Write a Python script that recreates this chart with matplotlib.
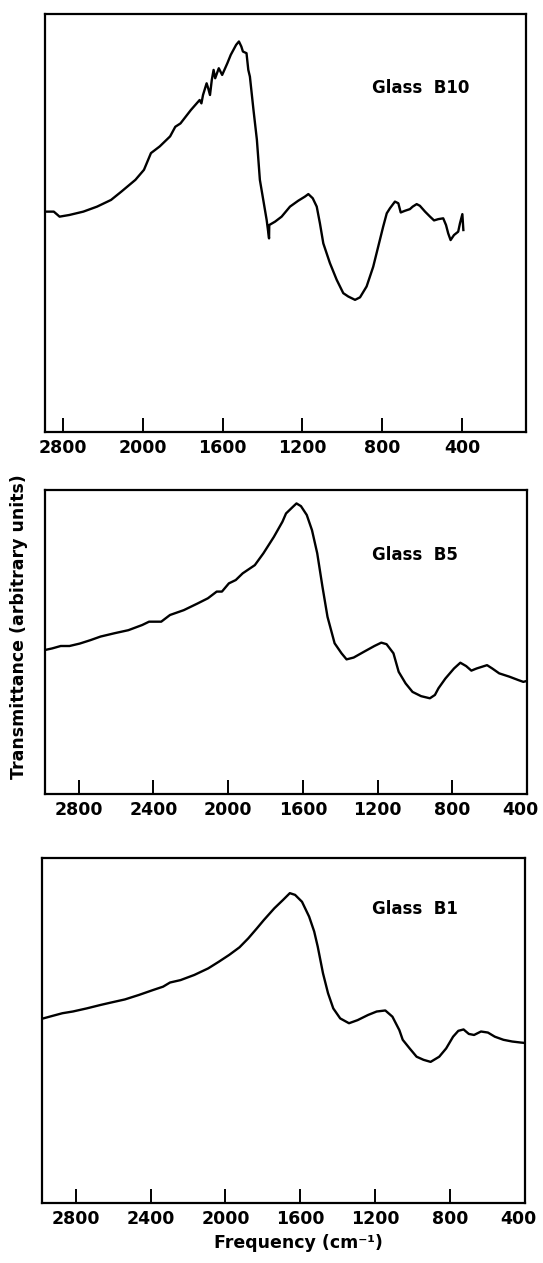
import matplotlib
matplotlib.use("Agg")
import matplotlib.pyplot as plt
from matplotlib.transforms import ScaledTranslation

# ---------------- data ----------------
# Glass B10 (top panel)
b10_freq = [2481, 2446, 2417, 2368, 2298, 2229, 2159, 2107, 2037, 1994, 1959, 1915,
            1863, 1837, 1811, 1759, 1715, 1706, 1698, 1680, 1672, 1663, 1654, 1645,
            1637, 1619, 1602, 1576, 1559, 1532, 1518, 1506, 1498, 1480, 1471, 1463,
            1445, 1428, 1413, 1396, 1379, 1367, 1366, 1337, 1304, 1262, 1221, 1187,
            1170, 1148, 1128, 1112, 1095, 1062, 1028, 995, 970, 936, 911, 878, 845,
            820, 795, 777, 761, 736, 719, 707, 686, 661, 647, 627, 611, 585, 560,
            540, 519, 494, 480, 469, 457, 440, 419, 410, 398, 393]
b10_trans = [52.7, 52.7, 51.5, 51.9, 52.7, 53.9, 55.5, 57.5, 60.3, 62.7, 66.7, 68.3,
             70.7, 73.0, 73.8, 77.0, 79.4, 78.6, 80.6, 83.4, 82.2, 80.6, 84.2, 86.6,
             84.6, 87.0, 85.4, 88.2, 90.2, 92.6, 93.4, 92.2, 91.0, 90.6, 86.6, 85.0,
             77.0, 69.9, 60.3, 55.5, 50.7, 46.3, 49.5, 50.3, 51.5, 53.9, 55.3, 56.3,
             56.9, 55.9, 53.9, 49.9, 45.1, 40.4, 36.4, 33.2, 32.4, 31.6, 32.2, 34.8,
             39.5, 44.3, 49.1, 52.3, 53.5, 55.1, 54.7, 52.5, 52.9, 53.3, 53.9, 54.5,
             54.1, 52.7, 51.5, 50.6, 50.9, 51.1, 49.5, 47.5, 45.9, 47.1, 47.9, 49.9,
             52.1, 48.3]

# Glass B5 (middle panel)
b5_freq = [2979, 2942, 2896, 2849, 2794, 2738, 2683, 2608, 2534, 2460, 2423, 2358,
           2311, 2237, 2163, 2108, 2061, 2033, 1996, 1959, 1922, 1857, 1811, 1755,
           1709, 1690, 1653, 1634, 1610, 1579, 1551, 1523, 1495, 1468, 1430, 1393,
           1366, 1328, 1273, 1217, 1180, 1152, 1115, 1087, 1050, 1013, 967, 920,
           893, 874, 837, 791, 757, 726, 698, 670, 614, 586, 549, 494, 447, 420, 401]
b5_trans = [47.4, 47.9, 48.7, 48.7, 49.5, 50.6, 51.8, 52.9, 53.9, 55.6, 56.7, 56.7,
            58.9, 60.5, 62.7, 64.4, 66.6, 66.6, 69.3, 70.4, 72.6, 75.3, 79.2, 84.6,
            89.6, 92.3, 94.5, 95.6, 94.7, 91.8, 86.8, 79.2, 68.2, 58.3, 49.6, 46.3,
            44.3, 44.9, 46.8, 48.7, 49.8, 49.3, 46.3, 40.2, 36.4, 33.6, 32.2, 31.5,
            32.6, 34.8, 38.0, 41.3, 43.2, 42.1, 40.6, 41.3, 42.4, 41.3, 39.7, 38.6,
            37.5, 36.9, 37.2]

# Glass B1 (bottom panel)
b1_freq = [2973, 2926, 2871, 2815, 2741, 2667, 2611, 2537, 2462, 2388, 2333, 2296,
           2240, 2166, 2092, 2036, 1980, 1925, 1878, 1832, 1795, 1739, 1693, 1656,
           1628, 1591, 1553, 1526, 1507, 1479, 1452, 1424, 1387, 1340, 1294, 1238,
           1192, 1146, 1108, 1071, 1053, 1016, 979, 942, 904, 858, 821, 784, 756,
           728, 700, 672, 635, 598, 561, 515, 468, 422, 385]
b1_trans = [53.5, 54.2, 55.0, 55.5, 56.4, 57.4, 58.1, 59.0, 60.3, 61.7, 62.7, 63.9,
            64.6, 66.1, 68.0, 69.9, 71.9, 74.1, 76.7, 79.6, 82.0, 85.4, 87.8, 89.8,
            89.3, 87.3, 83.0, 78.7, 74.3, 66.6, 60.8, 56.4, 53.5, 52.1, 53.0, 54.5,
            55.5, 55.8, 54.0, 50.1, 47.3, 44.8, 42.4, 41.5, 40.9, 42.4, 44.8, 48.2,
            49.9, 50.3, 49.0, 48.7, 49.7, 49.4, 48.2, 47.3, 46.8, 46.5, 46.3]

# tick positions and labels
top_tick_pos = [2400, 2000, 1600, 1200, 800, 400]
top_tick_labels = ["2800", "2000", "1600", "1200", "800", "400"]
tick_pos = [2800, 2400, 2000, 1600, 1200, 800, 400]
tick_labels = ["2800", "2400", "2000", "1600", "1200", "800", "400"]

labels = ["Glass  B10", "Glass  B5", "Glass  B1"]

# ---------------- figure ----------------
plt.rcParams['font.family'] = ['DejaVu Sans']
fig = plt.figure(figsize=(5.43, 12.63), dpi=100)

rects = [
    [0.0829, 0.6580, 0.8858, 0.3310],
    [0.0829, 0.3713, 0.8877, 0.2407],
    [0.0773, 0.0475, 0.8895, 0.2732],
]
series = [(b10_freq, b10_trans), (b5_freq, b5_trans), (b1_freq, b1_trans)]
xlims = [(2490, 79), (2980, 400), (2980, 400)]
ticks = [(top_tick_pos, top_tick_labels), (tick_pos, tick_labels), (tick_pos, tick_labels)]
label_pos = [(0.68, 0.823), (0.679, 0.786), (0.683, 0.852)]

for i, (rect, (xf, yt), xl, (tp, tl), lab, lp) in enumerate(
        zip(rects, series, xlims, ticks, labels, label_pos)):
    ax = fig.add_axes(rect)
    ax.plot(xf, yt, color='black', linewidth=1.7, solid_joinstyle='round')
    ax.set_xlim(*xl)
    ax.set_ylim(0, 100)
    ax.set_xticks(tp)
    ax.set_xticklabels(tl, fontsize=12.5, fontweight='bold')
    ax.tick_params(axis='x', direction='in', length=10, width=1.4, pad=5,
                   top=False, bottom=True)
    ax.set_yticks([])
    for s in ax.spines.values():
        s.set_linewidth(1.6)
        s.set_color('black')
    if i > 0:
        last = ax.get_xticklabels()[-1]
        last.set_transform(last.get_transform() +
                           ScaledTranslation(-5 / 72, 0, fig.dpi_scale_trans))
    ax.text(lp[0], lp[1], lab, transform=ax.transAxes, fontsize=12,
            fontweight='bold', ha='left', va='center')

fig.text(0.035, 0.5036, "Transmittance (arbitrary units)", rotation=90,
         fontsize=12.5, fontweight='bold', ha='center', va='center')
fig.text(0.55, 1 - 1243 / 1263, "Frequency (cm⁻¹)", fontsize=12.5,
         fontweight='bold', ha='center', va='center')

fig.savefig("out.png", dpi=100)
